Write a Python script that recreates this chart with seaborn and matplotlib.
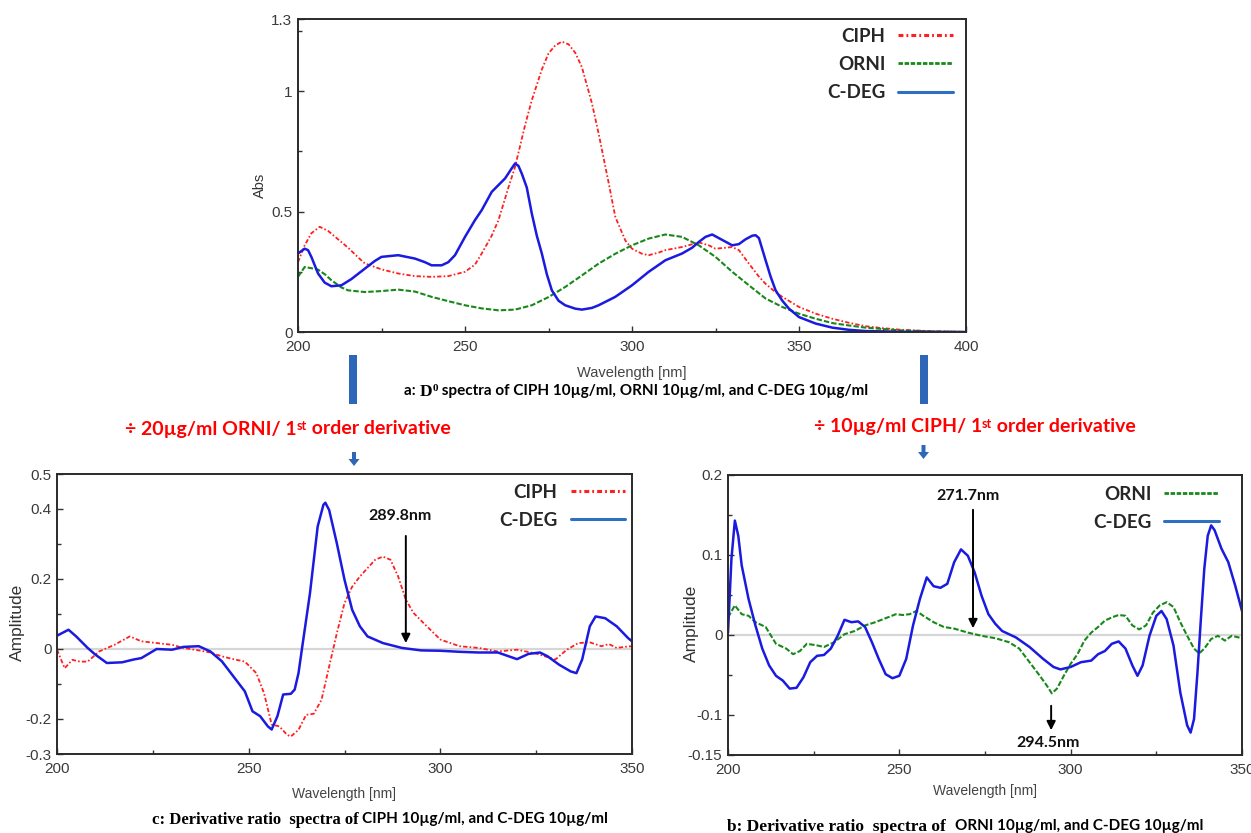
import matplotlib
matplotlib.use("Agg")
import matplotlib.pyplot as plt
import seaborn as sns
from matplotlib import font_manager
from matplotlib.lines import Line2D
from matplotlib.patches import Rectangle, FancyArrow
from matplotlib.offsetbox import TextArea, HPacker, AnnotationBbox

# ---- panel a: zero-order spectra ----
A_WL_CIPH = [200, 202, 204, 206.5, 209, 212, 215, 218, 220, 225, 230, 235, 240, 245, 250,
             253, 255, 258, 260, 263, 265, 268, 270, 273, 275, 277, 279, 281, 283, 285,
             288, 290, 293, 295, 298, 300, 303, 305, 308, 310, 315, 320, 323, 325, 328,
             330, 332, 335, 338, 340, 343, 345, 350, 355, 360, 365, 370, 375, 380, 390, 400]
A_CIPH = [0.29, 0.36, 0.41, 0.437, 0.42, 0.385, 0.35, 0.31, 0.285, 0.26, 0.243, 0.232, 0.229,
          0.232, 0.25, 0.28, 0.326, 0.40, 0.464, 0.60, 0.686, 0.86, 0.963, 1.09, 1.157, 1.19,
          1.206, 1.195, 1.16, 1.10, 0.95, 0.825, 0.62, 0.478, 0.38, 0.346, 0.325, 0.319, 0.33,
          0.34, 0.353, 0.372, 0.36, 0.346, 0.35, 0.353, 0.34, 0.284, 0.23, 0.20, 0.165, 0.146,
          0.104, 0.076, 0.055, 0.038, 0.024, 0.016, 0.01, 0.003, 0.0]

A_WL_ORNI = [200, 202, 204, 206, 208, 210, 213, 215, 220, 225, 230, 235, 240, 245, 250, 255,
             260, 265, 270, 275, 280, 285, 290, 295, 300, 305, 310, 315, 320, 325, 330, 335,
             340, 345, 350, 355, 360, 365, 370, 380, 390, 400]
A_ORNI = [0.229, 0.27, 0.265, 0.259, 0.24, 0.215, 0.185, 0.173, 0.166, 0.17, 0.176, 0.168,
          0.146, 0.128, 0.111, 0.098, 0.09, 0.093, 0.111, 0.145, 0.187, 0.235, 0.284, 0.325,
          0.36, 0.388, 0.405, 0.395, 0.36, 0.312, 0.25, 0.194, 0.139, 0.104, 0.076, 0.055,
          0.037, 0.027, 0.018, 0.007, 0.002, 0.0]

A_WL_CDEG = [200, 202, 203, 204, 206, 208, 210, 213, 216, 220, 223, 225, 230, 235, 238, 240,
             243, 245, 247, 250, 253, 255, 258, 262, 264, 265, 266, 267, 268.5, 270, 271.5,
             273, 274.5, 276, 278, 280, 283, 285, 288, 290, 295, 300, 305, 310, 315, 318, 320,
             322, 324, 326, 328, 330, 332, 334, 336, 337, 338, 340, 341.5, 343, 345, 347, 350,
             355, 360, 365, 370, 380, 400]
A_CDEG = [0.326, 0.346, 0.34, 0.312, 0.243, 0.205, 0.19, 0.194, 0.22, 0.263, 0.295, 0.312,
          0.319, 0.305, 0.29, 0.277, 0.277, 0.29, 0.319, 0.395, 0.465, 0.506, 0.582, 0.638,
          0.68, 0.70, 0.69, 0.658, 0.60, 0.492, 0.40, 0.326, 0.24, 0.173, 0.13, 0.111, 0.097,
          0.093, 0.10, 0.111, 0.146, 0.194, 0.25, 0.298, 0.326, 0.35, 0.374, 0.395, 0.405,
          0.39, 0.375, 0.36, 0.365, 0.385, 0.40, 0.402, 0.39, 0.298, 0.23, 0.173, 0.13, 0.097,
          0.062, 0.035, 0.018, 0.009, 0.004, 0.001, 0.0]

# ---- panel c: ratio derivative (divisor ORNI) ----
C_WL_CDEG = [200, 203, 205, 208, 210, 213, 217, 220, 222, 226, 230, 233, 237, 240, 243, 246,
             249, 251, 253, 255, 256, 257.5, 259, 261, 262, 263, 264, 266, 268, 269.5, 270,
             271, 273, 275, 277, 279, 281, 285, 290, 295, 300, 305, 310, 315, 320, 323, 326,
             328, 331, 334, 335.5, 337, 339, 340.5, 343, 346, 349, 350]
C_CDEG = [0.038, 0.055, 0.036, 0.003, -0.016, -0.04, -0.038, -0.03, -0.026, 0.0, -0.002,
          0.006, 0.008, -0.007, -0.035, -0.078, -0.121, -0.178, -0.192, -0.221, -0.23, -0.192,
          -0.13, -0.128, -0.116, -0.069, 0.008, 0.16, 0.35, 0.412, 0.418, 0.397, 0.302, 0.198,
          0.112, 0.065, 0.036, 0.017, 0.003, -0.004, -0.005, -0.008, -0.01, -0.01, -0.029,
          -0.014, -0.01, -0.021, -0.045, -0.064, -0.069, -0.03, 0.065, 0.093, 0.088, 0.065,
          0.031, 0.022]

C_WL_CIPH = [200, 202, 204, 206, 208, 211, 215, 219, 222, 226, 230, 233, 237, 240, 243, 246,
             249, 252, 254, 256, 258, 260, 261, 263, 265, 267, 269, 271, 273, 275, 277, 279,
             281, 283, 285, 287, 289, 291, 293, 296, 300, 305, 310, 315, 320, 325, 330, 333,
             336, 339, 342, 344, 346, 348, 350]
C_CIPH = [-0.002, -0.055, -0.031, -0.036, -0.036, -0.007, 0.012, 0.036, 0.022, 0.017, 0.012,
          0.003, -0.004, -0.01, -0.021, -0.029, -0.036, -0.069, -0.126, -0.216, -0.221, -0.245,
          -0.25, -0.231, -0.188, -0.185, -0.145, -0.05, 0.045, 0.131, 0.178, 0.207, 0.231,
          0.255, 0.264, 0.255, 0.207, 0.141, 0.103, 0.07, 0.027, 0.008, 0.003, -0.007, -0.002,
          -0.013, -0.03, -0.002, 0.017, 0.019, 0.008, 0.014, 0.003, 0.006, 0.008]

# ---- panel b: ratio derivative (divisor CIPH) ----
B_WL_CDEG = [200, 201, 202, 203, 204, 206, 208, 210, 212, 214, 216, 218, 220, 222, 224, 226,
             228, 230, 232, 234, 236, 238, 240, 242, 244, 246, 248, 250, 252, 254, 256, 258,
             260, 262, 264, 266, 268, 270, 272, 274, 276, 278, 280, 284, 288, 292, 295, 297,
             300, 303, 306, 308, 310, 312, 314, 316, 318, 319.5, 321, 323, 325, 326.5, 328,
             330, 332, 334, 335, 336, 337, 338, 339, 340, 341, 342, 344, 346, 348, 350]
B_CDEG = [0.003, 0.095, 0.143, 0.124, 0.087, 0.045, 0.012, -0.017, -0.038, -0.051, -0.057,
          -0.067, -0.066, -0.053, -0.034, -0.026, -0.025, -0.017, -0.001, 0.019, 0.016, 0.017,
          0.01, -0.009, -0.03, -0.049, -0.054, -0.051, -0.03, 0.012, 0.045, 0.072, 0.061, 0.059,
          0.064, 0.091, 0.107, 0.099, 0.078, 0.049, 0.026, 0.014, 0.005, -0.003, -0.015, -0.03,
          -0.04, -0.043, -0.04, -0.034, -0.032, -0.024, -0.02, -0.011, -0.008, -0.017, -0.038,
          -0.051, -0.038, -0.001, 0.024, 0.03, 0.02, -0.013, -0.072, -0.113, -0.122, -0.105,
          -0.047, 0.02, 0.083, 0.124, 0.137, 0.131, 0.108, 0.091, 0.062, 0.03]

B_WL_ORNI = [200, 202, 204, 206, 208, 211, 214, 217, 219, 221, 223, 226, 228, 231, 234, 237,
             240, 243, 246, 249, 251, 253, 255, 257, 260, 263, 266, 270, 274, 278, 282, 285,
             288, 291, 293, 294.5, 296, 298, 300, 302, 304, 306, 308, 310, 312, 314, 316, 318,
             320, 322, 324, 326, 328, 330, 332, 334, 336, 337.5, 339, 341, 343, 345, 347, 349,
             350]
B_ORNI = [0.022, 0.037, 0.026, 0.024, 0.016, 0.01, -0.011, -0.017, -0.024, -0.02, -0.011,
          -0.013, -0.015, -0.009, 0.001, 0.005, 0.012, 0.016, 0.021, 0.026, 0.025, 0.026, 0.03,
          0.024, 0.016, 0.01, 0.008, 0.003, -0.001, -0.004, -0.009, -0.017, -0.034, -0.051,
          -0.063, -0.073, -0.067, -0.051, -0.036, -0.024, -0.007, 0.003, 0.01, 0.018, 0.022,
          0.025, 0.024, 0.012, 0.007, 0.012, 0.028, 0.037, 0.041, 0.035, 0.016, -0.001, -0.017,
          -0.023, -0.017, -0.005, -0.001, -0.007, -0.001, -0.003, -0.005]

RED = "#ff1f1f"
GREEN = "#17891a"
BLUE = "#1a1ae0"
LEG_BLUE = "#2e6fc4"
ARROW_BLUE = "#2e67b8"
CIPH_LS = (0, (2.4, 1.2, 0.9, 1.2))
ORNI_LS = (0, (2.6, 1.0))

sns.set_theme(style="white")
names = {f.name for f in font_manager.fontManager.ttflist}
TICK_FONT = ["Liberation Sans Narrow"] if "Liberation Sans Narrow" in names else ["Liberation Sans"]
plt.rcParams["font.family"] = ["Liberation Sans", "DejaVu Sans"]
SANS_B = ["Lato", "DejaVu Sans"]
SERIF_B = ["Liberation Serif", "DejaVu Serif"]

W, H = 1251, 833
fig = plt.figure(figsize=(W / 100, H / 100), dpi=100)


def axes_px(x0, y0, x1, y1):
    return fig.add_axes([x0 / W, 1 - y1 / H, (x1 - x0) / W, (y1 - y0) / H])


ax_a = axes_px(298, 19, 966, 332)
ax_c = axes_px(57, 474, 632, 754)
ax_b = axes_px(728, 475, 1242, 755)


def style_axes(ax, xlim, ylim, yt, ytl, yminor, xlabel_y, ylabel, ylabel_x, ylabel_size, xlabel_size):
    ax.set_xlim(*xlim)
    ax.set_ylim(*ylim)
    ax.set_xticks([200, 250, 300, 350] + ([400] if xlim[1] == 400 else []))
    ax.set_xticks(list(range(225, int(xlim[1]), 50)), minor=True)
    ax.set_yticks(yt, ytl)
    ax.set_yticks(yminor, minor=True)
    ax.tick_params(which="both", direction="in", left=True, bottom=True, color="#333333")
    ax.tick_params(which="major", length=4, width=1, labelsize=11, labelcolor="#3a3a3a", pad=4)
    ax.tick_params(axis="x", which="major", pad=6)
    ax.tick_params(which="minor", length=3, width=1)
    for lab in ax.get_xticklabels() + ax.get_yticklabels():
        lab.set_fontfamily(TICK_FONT)
    for sp in ax.spines.values():
        sp.set_color("#2a2a2a")
        sp.set_linewidth(1.4)
    ax.set_xlabel("Wavelength [nm]", fontsize=xlabel_size, color="#444444", family=TICK_FONT)
    ax.xaxis.set_label_coords(0.5, xlabel_y)
    ax.set_ylabel(ylabel, fontsize=ylabel_size, color="#333333")
    ax.yaxis.set_label_coords(ylabel_x, 0.47)


# panel a
sns.lineplot(x=A_WL_CIPH, y=A_CIPH, ax=ax_a, color=RED, lw=1.3, linestyle=CIPH_LS)
sns.lineplot(x=A_WL_ORNI, y=A_ORNI, ax=ax_a, color=GREEN, lw=1.5, linestyle=ORNI_LS)
sns.lineplot(x=A_WL_CDEG, y=A_CDEG, ax=ax_a, color=BLUE, lw=1.8)
style_axes(ax_a, (200, 400), (0, 1.3), [0, 0.5, 1, 1.3], ["0", "0.5", "1", "1.3"],
           [0.25, 0.75, 1.25], -0.11, "Abs", -0.046, 10.5, 10.5)

# panel c
ax_c.axhline(0, color="#d6d6d6", lw=1.6, zorder=0)
sns.lineplot(x=C_WL_CIPH, y=C_CIPH, ax=ax_c, color=RED, lw=1.3, linestyle=CIPH_LS)
sns.lineplot(x=C_WL_CDEG, y=C_CDEG, ax=ax_c, color=BLUE, lw=1.8)
style_axes(ax_c, (200, 350), (-0.3, 0.5), [-0.3, -0.2, 0, 0.2, 0.4, 0.5],
           ["-0.3", "-0.2", "0", "0.2", "0.4", "0.5"], [-0.1, 0.1, 0.3], -0.118,
           "Amplitude", -0.056, 12.5, 10)

# panel b
ax_b.axhline(0, color="#d6d6d6", lw=1.6, zorder=0)
sns.lineplot(x=B_WL_ORNI, y=B_ORNI, ax=ax_b, color=GREEN, lw=1.5, linestyle=ORNI_LS)
sns.lineplot(x=B_WL_CDEG, y=B_CDEG, ax=ax_b, color=BLUE, lw=1.8)
style_axes(ax_b, (200, 350), (-0.15, 0.2), [-0.15, -0.1, 0, 0.1, 0.2],
           ["-0.15", "-0.1", "0", "0.1", "0.2"], [-0.05, 0.05, 0.15], -0.105,
           "Amplitude", -0.056, 12.5, 10)

# legends (label first, line sample after it)
leg_font = {"family": SANS_B, "weight": "bold", "size": 13.5}
h_ciph = Line2D([], [], color=RED, lw=2.2, linestyle=(0, (1.6, 1.0, 0.6, 1.0)))
h_orni = Line2D([], [], color=GREEN, lw=2.0, linestyle=(0, (1.6, 0.6)))
h_cdeg = Line2D([], [], color=LEG_BLUE, lw=2.2)
leg_kw = dict(loc="upper left", borderaxespad=0, borderpad=0, frameon=False, markerfirst=False,
              handlelength=2.9, handletextpad=0.7, labelspacing=0.6, prop=leg_font)
ax_a.legend([h_ciph, h_orni, h_cdeg], ["CIPH", "ORNI", "C-DEG"], bbox_to_anchor=(0.792, 0.972), **leg_kw)
ax_c.legend([h_ciph, h_cdeg], ["CIPH", "C-DEG"], bbox_to_anchor=(0.769, 0.965), **leg_kw)
ax_b.legend([h_orni, h_cdeg], ["ORNI", "C-DEG"], bbox_to_anchor=(0.71, 0.962), **leg_kw)

# wavelength markers
arrow_kw = dict(arrowstyle="-|>", color="black", lw=1.4, mutation_scale=13)
ann_font = dict(family=SANS_B, weight="bold", size=11.5, ha="center", va="center", color="#111111")
ax_c.annotate("", xy=(291.0, 0.009), xytext=(291.0, 0.331), arrowprops=arrow_kw)
ax_c.text(289.5, 0.38, "289.8nm", **ann_font)
ax_b.annotate("", xy=(271.5, 0.005), xytext=(271.5, 0.16), arrowprops=arrow_kw)
ax_b.text(270.0, 0.174, "271.7nm", **ann_font)
ax_b.annotate("", xy=(294.3, -0.1225), xytext=(294.3, -0.085), arrowprops=arrow_kw)
ax_b.text(293.4, -0.135, "294.5nm", **ann_font)


def fpos(px, py):
    return px / W, 1 - py / H


def place(parts, px, py):
    boxes = [TextArea(s, textprops=tp) for s, tp in parts]
    box = HPacker(children=boxes, align="top", pad=0, sep=0)
    fig.add_artist(AnnotationBbox(box, fpos(px, py), xycoords="figure fraction",
                                  frameon=False, box_alignment=(0.5, 0.5), pad=0))


cap_sans = dict(family=SANS_B, weight="bold", size=11, color="black")
cap_serif = dict(family=SERIF_B, weight="bold", size=12.5, color="black")
cap_serif_c = dict(family=SERIF_B, weight="bold", size=12, color="black")
cap_sup = dict(family=SERIF_B, weight="bold", size=8, color="black")
red_big = dict(family=SANS_B, weight="bold", size=14, color="#ff0000")
red_sup = dict(family=SANS_B, weight="bold", size=9, color="#ff0000")

place([("a: ", cap_sans), ("D", cap_serif), ("0", cap_sup),
       (" spectra of CIPH 10\u00b5g/ml, ORNI 10\u00b5g/ml, and C-DEG 10\u00b5g/ml", cap_sans)], 636, 392)
place([("c: Derivative ratio  spectra of ", cap_serif_c),
       ("CIPH 10\u00b5g/ml, and C-DEG 10\u00b5g/ml", cap_sans)], 380, 820)
place([("b: Derivative ratio  spectra of  ", cap_serif),
       ("ORNI 10\u00b5g/ml, and C-DEG 10\u00b5g/ml", cap_sans)], 965, 827)
place([("\u00f7 20\u00b5g/ml ORNI/ 1", red_big), ("st", red_sup), (" order derivative", red_big)], 288, 429)
place([("\u00f7 10\u00b5g/ml CIPH/ 1", red_big), ("st", red_sup), (" order derivative", red_big)], 975, 426)

# blue connectors between panels
for cx in (353, 923.5):
    fig.add_artist(Rectangle(((cx - 4) / W, 1 - 404 / H), 8 / W, 49 / H,
                             transform=fig.transFigure, color=ARROW_BLUE, lw=0))
for cx, y0, y1 in ((354, 452, 466), (923.5, 445, 459)):
    fig.add_artist(FancyArrow(cx / W, 1 - y0 / H, 0, -(y1 - y0) / H, width=4 / W,
                              head_width=11 / W, head_length=7 / H, length_includes_head=True,
                              transform=fig.transFigure, color=ARROW_BLUE, lw=0))

fig.savefig("out.png", dpi=100)
